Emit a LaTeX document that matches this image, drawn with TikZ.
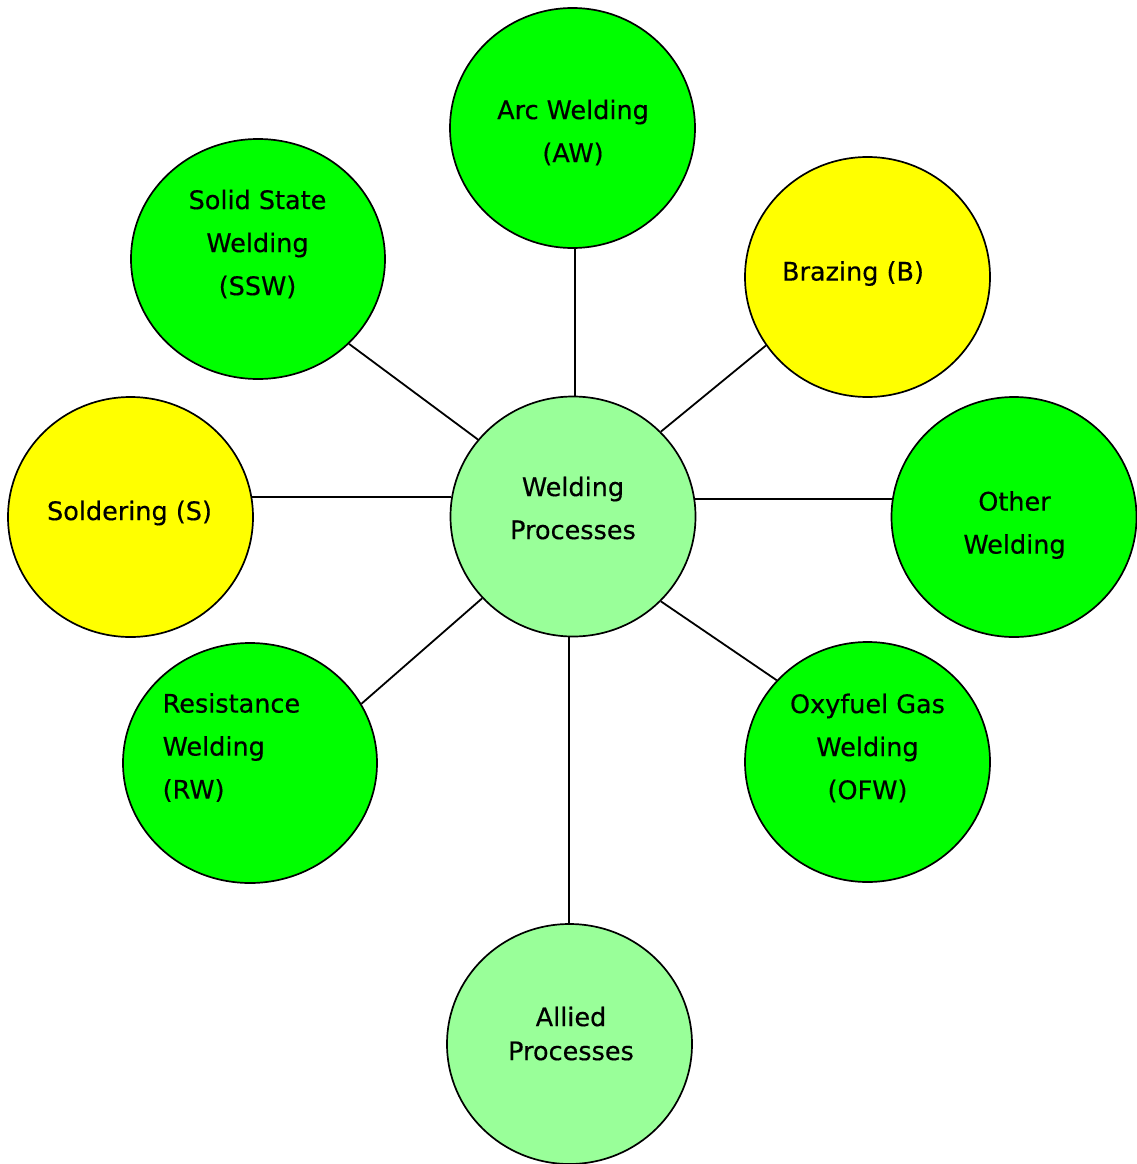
\documentclass[tikz,border=0pt]{standalone}
\usepackage{fontspec}
\setmainfont{DejaVu Sans}
\newfontfamily\capfont{DejaVu Sans}[FakeBold=0.4]
\usetikzlibrary{shapes.geometric,backgrounds}
\definecolor{brightgreen}{HTML}{00FF00}
\definecolor{paleGreen}{HTML}{99FF99}
\definecolor{brightyellow}{HTML}{FFFF00}
\tikzset{
  bubble/.style={ellipse, draw=black, line width=1.7pt, inner sep=0pt,
    minimum width=245pt, minimum height=240pt},
  wide/.style={minimum width=254pt},
  green/.style={bubble, fill=brightgreen},
  yellow/.style={bubble, fill=brightyellow},
  pale/.style={bubble, fill=paleGreen},
  caption/.style={inner sep=0pt, anchor=north, align=center,
    font=\capfont\fontsize{25.5}{43}\selectfont},
  link/.style={draw=black, line width=1.8pt}
}
\begin{document}
\begin{tikzpicture}[x=1pt, y=-1pt]
  \useasboundingbox (0,0) rectangle (1136,1164);

  % circles
  \node[pale]          (wp)  at (573,516.5)  {};
  \node[green]         (aw)  at (572.5,128)  {};
  \node[yellow]        (br)  at (867.5,277)  {};
  \node[green]         (ow)  at (1014,517)   {};
  \node[green]         (ofw) at (867.5,762)  {};
  \node[pale]          (ap)  at (569.5,1044) {};
  \node[green, wide]   (rw)  at (250,763)    {};
  \node[yellow]        (so)  at (130.5,517)  {};
  \node[green, wide]   (ssw) at (258,259)    {};

  % connectors, kept behind the circles
  \begin{pgfonlayer}{background}
    \draw[link] (wp.89.5)  -- (wp.89.5 |- aw.center);
    \draw[link] (wp.268.6) -- (wp.268.6 |- ap.center);
    \draw[link] (wp.8.6)   -- (wp.8.6 -| ow.center);
    \draw[link] (wp.171.4) -- (wp.171.4 -| so.center);
  \end{pgfonlayer}
  \draw[link] (wp.44.2)  -- (br.214.5);
  \draw[link] (wp.316.1) -- (ofw.138.7);
  \draw[link] (wp.222.2) -- (rw.28.6);
  \draw[link] (wp.141.8) -- (ssw.317.9);

  % captions
  \node[caption] (wp-t)  at (573,476.5)  {Welding\\Processes};
  \node[caption] (aw-t)  at (573,99.5)   {Arc Welding\\(AW)};
  \node[caption] (br-t)  at (853,261)    {Brazing (B)};
  \node[caption] (ow-t)  at (1014.5,491) {Other\\Welding};
  \node[caption] (ofw-t) at (867.5,693.5) {Oxyfuel Gas\\Welding\\(OFW)};
  \node[caption, font=\capfont\fontsize{25.5}{34}\selectfont] (ap-t) at (571,1006.5) {Allied\\Processes};
  \node[caption, anchor=north west, align=left] (rw-t) at (162.5,693) {Resistance\\Welding\\(RW)};
  \node[caption] (so-t)  at (129.5,500.5) {Soldering (S)};
  \node[caption] (ssw-t) at (257.5,189.5) {Solid State\\Welding\\(SSW)};
\end{tikzpicture}
\end{document}
